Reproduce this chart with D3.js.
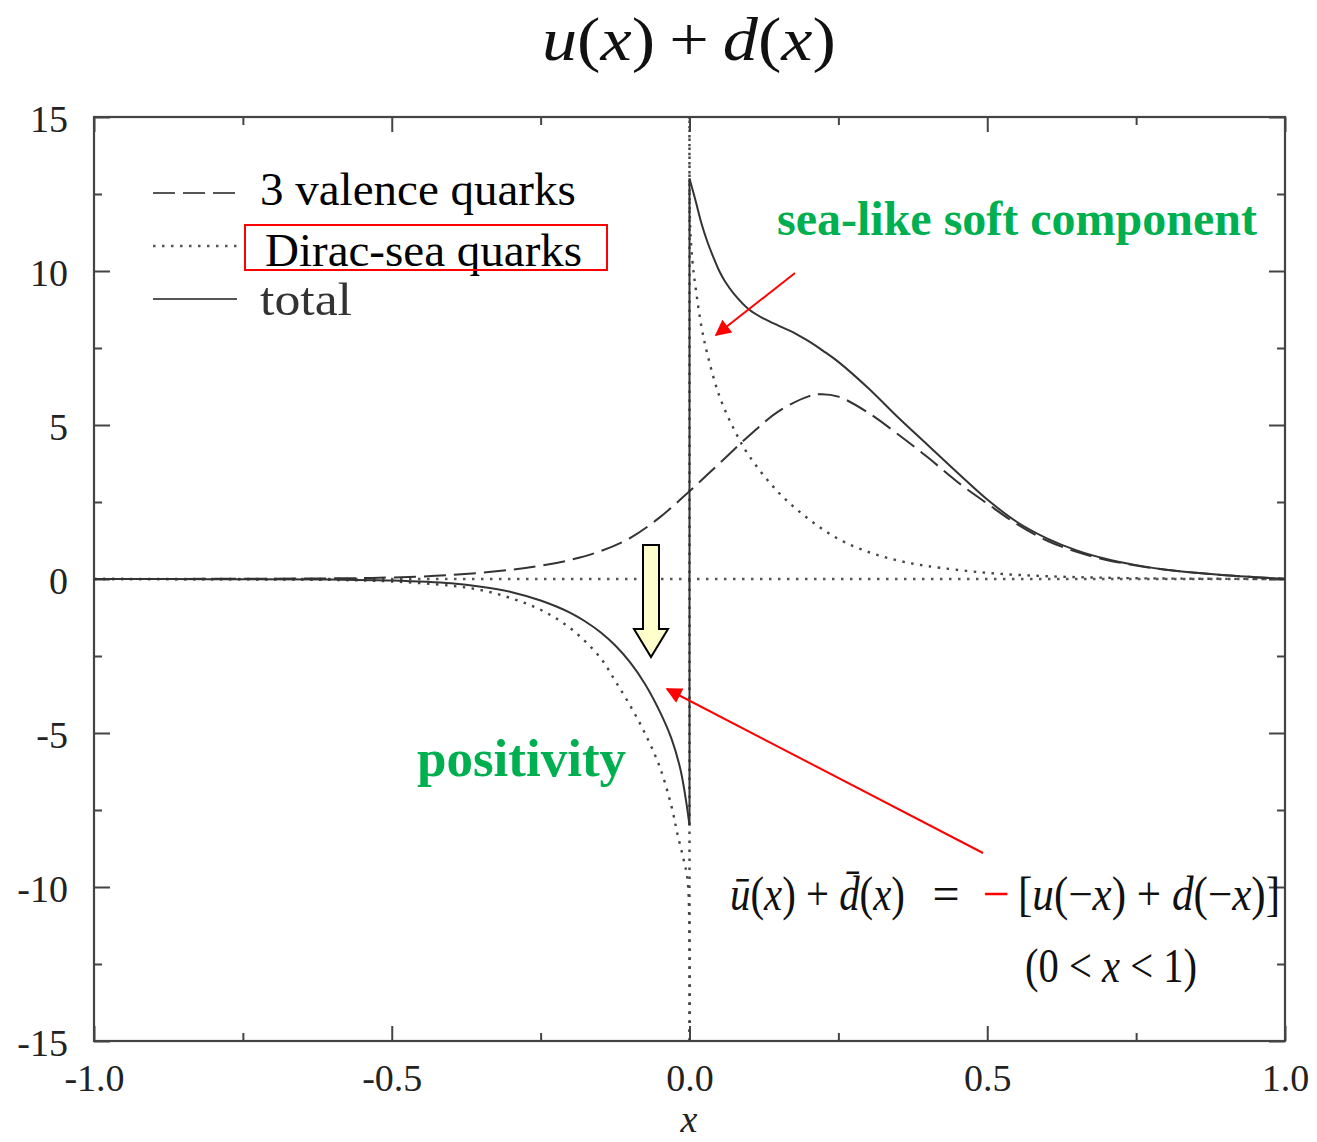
<!DOCTYPE html>
<html>
<head>
<meta charset="utf-8">
<script src="https://cdn.jsdelivr.net/npm/d3@7"></script>
<style>
body { margin: 0; background: #fff; }
svg text { font-family: "Liberation Serif", "DejaVu Serif", serif; }
</style>
</head>
<body>
<div id="root"></div>
<script>
// ticks
const xMajor = [-1, -0.5, 0, 0.5, 1]
const xMinor = [-0.75, -0.25, 0.25, 0.75]
const yMajor = [-15, -10, -5, 0, 5, 10, 15]
const yMinor = [-12.5, -7.5, -2.5, 2.5, 7.5, 12.5]

// curves, [x, value]
const valence = [[-1, 0], [-0.8, 0.005], [-0.6, 0.02], [-0.5, 0.05], [-0.4, 0.13], [-0.3, 0.3], [-0.25, 0.43],
  [-0.2, 0.62], [-0.15, 0.9], [-0.1, 1.33], [-0.05, 2.0], [0, 2.85], [0.05, 3.75], [0.1, 4.65], [0.15, 5.45],
  [0.2, 5.93], [0.22, 6.0], [0.25, 5.92], [0.3, 5.4], [0.35, 4.7], [0.4, 3.95], [0.45, 3.15], [0.5, 2.45],
  [0.55, 1.78], [0.6, 1.25], [0.65, 0.88], [0.7, 0.62], [0.75, 0.44], [0.8, 0.3], [0.85, 0.2], [0.9, 0.12],
  [0.95, 0.06], [1, 0.01]]

const seaNeg = [[-1, 0], [-0.8, -0.01], [-0.6, -0.03], [-0.5, -0.08], [-0.4, -0.22], [-0.35, -0.36], [-0.3, -0.62],
  [-0.25, -1.0], [-0.2, -1.6], [-0.15, -2.55], [-0.125, -3.3], [-0.1, -4.1], [-0.075, -5.0], [-0.05, -6.1],
  [-0.03, -7.4], [-0.02, -8.3], [-0.01, -9.1], [-0.003, -9.8], [0, -15]]
const seaPos = [[0, 15], [0.001, 11.5], [0.005, 10.3], [0.01, 9.5], [0.02, 8.2], [0.03, 7.3], [0.05, 5.95],
  [0.075, 4.85], [0.1, 4.0], [0.15, 2.8], [0.2, 1.95], [0.25, 1.3], [0.3, 0.88], [0.35, 0.6], [0.4, 0.42],
  [0.5, 0.2], [0.6, 0.09], [0.7, 0.04], [0.8, 0.015], [0.9, 0.005], [1, 0]]

const totalNeg = [[-1, 0], [-0.8, -0.005], [-0.6, -0.02], [-0.5, -0.05], [-0.4, -0.14], [-0.35, -0.25], [-0.3, -0.42],
  [-0.25, -0.7], [-0.2, -1.1], [-0.175, -1.38], [-0.15, -1.72], [-0.125, -2.15], [-0.1, -2.7], [-0.075, -3.4],
  [-0.05, -4.3], [-0.03, -5.2], [-0.015, -6.2], [-0.005, -7.3], [0, -8.0]]
const totalPos = [[0, 13.0], [0.01, 12.3], [0.02, 11.55], [0.03, 10.95], [0.04, 10.45], [0.05, 10.0], [0.06, 9.65],
  [0.075, 9.25], [0.1, 8.75], [0.125, 8.45], [0.15, 8.22], [0.175, 8.0], [0.2, 7.72], [0.225, 7.4], [0.25, 7.05],
  [0.3, 6.2], [0.35, 5.25], [0.4, 4.35], [0.45, 3.45], [0.5, 2.58], [0.55, 1.85], [0.6, 1.32], [0.65, 0.93],
  [0.7, 0.65], [0.75, 0.45], [0.8, 0.3], [0.85, 0.2], [0.9, 0.12], [0.95, 0.06], [1, 0]]

const legendLabels = ['3 valence quarks', 'Dirac-sea quarks', 'total']

const W = 1317, H = 1142
const pLeft = 94, pRight = 1285, pTop = 117, pBottom = 1041

const DASH = '22 8', DOT = '2.5 6.5'
const ink = '#333'

const svg = d3.select('#root').append('svg')
  .attr('width', W).attr('height', H)
  .style('background', '#fff')

const x = d3.scaleLinear().domain([-1, 1]).range([pLeft, pRight])
const y = d3.scaleLinear().domain([-15, 15]).range([pBottom, pTop])

svg.append('clipPath').attr('id', 'plot')
  .append('rect').attr('x', pLeft).attr('y', pTop).attr('width', pRight - pLeft).attr('height', pBottom - pTop)

// axes: ticks pointing inward on all four sides
function styleAxis(g) {
  g.select('.domain').remove()
  g.selectAll('.tick line').attr('stroke', '#444').attr('stroke-width', 2)
  g.selectAll('.tick text').attr('fill', '#222').style('font-size', '38px')
}
const fmtX = d => d.toFixed(1)
const fmtY = d => String(d)

svg.append('g').attr('transform', `translate(0,${pBottom})`)
  .call(d3.axisBottom(x).tickValues(xMajor).tickSize(-15).tickPadding(23).tickFormat(fmtX))
  .call(styleAxis)
svg.append('g').attr('transform', `translate(0,${pBottom})`)
  .call(d3.axisBottom(x).tickValues(xMinor).tickSize(-8).tickFormat(''))
  .call(styleAxis)
svg.append('g').attr('transform', `translate(0,${pTop})`)
  .call(d3.axisTop(x).tickValues(xMajor).tickSize(-15).tickFormat(''))
  .call(styleAxis)
svg.append('g').attr('transform', `translate(0,${pTop})`)
  .call(d3.axisTop(x).tickValues(xMinor).tickSize(-8).tickFormat(''))
  .call(styleAxis)
svg.append('g').attr('transform', `translate(${pLeft},0)`)
  .call(d3.axisLeft(y).tickValues(yMajor).tickSize(-16).tickPadding(26).tickFormat(fmtY))
  .call(styleAxis)
  .selectAll('.tick text').attr('dy', '0.37em')
svg.append('g').attr('transform', `translate(${pLeft},0)`)
  .call(d3.axisLeft(y).tickValues(yMinor).tickSize(-8).tickFormat(''))
  .call(styleAxis)
svg.append('g').attr('transform', `translate(${pRight},0)`)
  .call(d3.axisRight(y).tickValues(yMajor).tickSize(-16).tickFormat(''))
  .call(styleAxis)
svg.append('g').attr('transform', `translate(${pRight},0)`)
  .call(d3.axisRight(y).tickValues(yMinor).tickSize(-8).tickFormat(''))
  .call(styleAxis)

svg.append('rect')
  .attr('x', pLeft).attr('y', pTop).attr('width', pRight - pLeft).attr('height', pBottom - pTop)
  .attr('fill', 'none').attr('stroke', '#444').attr('stroke-width', 2.2)

// curves
const smooth = d3.line().x(d => x(d[0])).y(d => y(d[1])).curve(d3.curveCatmullRom.alpha(0.5))
const straight = d3.line().x(d => x(d[0])).y(d => y(d[1]))
const plot = svg.append('g').attr('clip-path', 'url(#plot)')
  .attr('fill', 'none').attr('stroke', ink).attr('stroke-width', 2)

// zero line
plot.append('line')
  .attr('x1', x.range()[0]).attr('x2', x.range()[1]).attr('y1', y(0)).attr('y2', y(0))
  .attr('stroke-dasharray', DOT).attr('stroke-width', 2.4).attr('stroke', '#555')

const sea = plot.append('g').attr('stroke-dasharray', DOT).attr('stroke-width', 2.4).attr('stroke', '#444')
sea.append('path').attr('d', smooth(seaNeg))
sea.append('path').attr('d', straight([seaNeg[seaNeg.length - 1], seaPos[0]]))
sea.append('path').attr('d', smooth(seaPos))

plot.append('path').attr('d', smooth(valence)).attr('stroke-dasharray', DASH)

plot.append('path').attr('d', smooth(totalNeg))
plot.append('path').attr('d', straight([totalNeg[totalNeg.length - 1], totalPos[0]]))
plot.append('path').attr('d', smooth(totalPos))

// legend
const legend = svg.append('g')
const styles = [DASH, DOT, null]
const legendY = [193, 246, 299]
const textY = [205, 266, 315]
legendLabels.forEach((label, i) => {
  legend.append('line')
    .attr('x1', 153).attr('x2', 237).attr('y1', legendY[i]).attr('y2', legendY[i])
    .attr('stroke', '#555').attr('stroke-width', i == 1 ? 2.4 : 2)
    .attr('stroke-dasharray', styles[i])
  const t = legend.append('text')
    .attr('x', i == 1 ? 265 : 260).attr('y', textY[i])
    .attr('fill', i == 2 ? '#333' : '#000')
    .style('font-size', '47px')
    .text(label)
  if (i == 2) t.attr('textLength', 92).attr('lengthAdjust', 'spacingAndGlyphs')
})
legend.append('rect')
  .attr('x', 245).attr('y', 225).attr('width', 362).attr('height', 45)
  .attr('fill', 'none').attr('stroke', '#ff0000').attr('stroke-width', 2)

// squeeze a text group horizontally so it spans a given width
function fitTo(g, x0, y0, width) {
  const w = g.node().getBBox().width
  g.attr('transform', `translate(${x0},${y0}) scale(${width / w},1)`)
}

// title
const titleG = svg.append('g')
const title = titleG.append('text').attr('x', 0).attr('y', 0)
  .style('font-size', '62px').attr('fill', '#111')
title.append('tspan').style('font-style', 'italic').text('u')
title.append('tspan').text('(')
title.append('tspan').style('font-style', 'italic').text('x')
title.append('tspan').text(')\u2009+\u2009')
title.append('tspan').style('font-style', 'italic').text('d')
title.append('tspan').text('(')
title.append('tspan').style('font-style', 'italic').text('x')
title.append('tspan').text(')')
fitTo(titleG, 542, 60, 294)

// x axis label
svg.append('text').attr('x', 689).attr('y', 1132).attr('text-anchor', 'middle')
  .style('font-size', '38px').style('font-style', 'italic').attr('fill', '#222').text('x')

// green notes
svg.append('text').attr('x', 777).attr('y', 235)
  .style('font-size', '48px').style('font-weight', 'bold').attr('fill', '#00b050')
  .text('sea-like soft component')
svg.append('text').attr('x', 417).attr('y', 776)
  .style('font-size', '53px').style('font-weight', 'bold').attr('fill', '#00b050')
  .text('positivity')

// red arrows
const defs = svg.append('defs')
defs.append('marker').attr('id', 'head')
  .attr('viewBox', '0 0 10 10').attr('refX', 9).attr('refY', 5)
  .attr('markerWidth', 22).attr('markerHeight', 16).attr('markerUnits', 'userSpaceOnUse')
  .attr('orient', 'auto')
  .append('path').attr('d', 'M0,0 L10,5 L0,10 Z').attr('fill', '#ff0000')

svg.append('line').attr('x1', 795).attr('y1', 273).attr('x2', 716).attr('y2', 335)
  .attr('stroke', '#ff0000').attr('stroke-width', 2).attr('marker-end', 'url(#head)')
svg.append('line').attr('x1', 983).attr('y1', 853).attr('x2', 667).attr('y2', 689)
  .attr('stroke', '#ff0000').attr('stroke-width', 2).attr('marker-end', 'url(#head)')

// yellow down arrow
svg.append('path')
  .attr('d', 'M643,545 L659,545 L659,629 L668,629 L651,657 L634,629 L643,629 Z')
  .attr('fill', '#ffffcc').attr('stroke', '#000').attr('stroke-width', 2).attr('stroke-linejoin', 'miter')

// relation
const rel = svg.append('g').attr('fill', '#111').style('font-size', '48px')
const lhsG = rel.append('g')
const lhs = lhsG.append('text')
lhs.append('tspan').style('font-style', 'italic').text('u\u0304')
lhs.append('tspan').text('(')
lhs.append('tspan').style('font-style', 'italic').text('x')
lhs.append('tspan').text(') + ')
lhs.append('tspan').style('font-style', 'italic').text('d\u0304')
lhs.append('tspan').text('(')
lhs.append('tspan').style('font-style', 'italic').text('x')
lhs.append('tspan').text(')')
fitTo(lhsG, 730, 910, 175)

rel.append('text').attr('x', 946).attr('y', 910).attr('text-anchor', 'middle').text('=')
rel.append('text').attr('x', 996).attr('y', 910).attr('text-anchor', 'middle').attr('fill', '#ff0000').text('\u2212')

const rhsG = rel.append('g')
const rhs = rhsG.append('text')
rhs.append('tspan').text('[')
rhs.append('tspan').style('font-style', 'italic').text('u')
rhs.append('tspan').text('(\u2212')
rhs.append('tspan').style('font-style', 'italic').text('x')
rhs.append('tspan').text(') + ')
rhs.append('tspan').style('font-style', 'italic').text('d')
rhs.append('tspan').text('(\u2212')
rhs.append('tspan').style('font-style', 'italic').text('x')
rhs.append('tspan').text(')]')
fitTo(rhsG, 1018, 910, 262)

const condG = rel.append('g')
const cond = condG.append('text')
cond.append('tspan').text('(0 < ')
cond.append('tspan').style('font-style', 'italic').text('x')
cond.append('tspan').text(' < 1)')
fitTo(condG, 1025, 982, 172)
</script>
</body>
</html>
